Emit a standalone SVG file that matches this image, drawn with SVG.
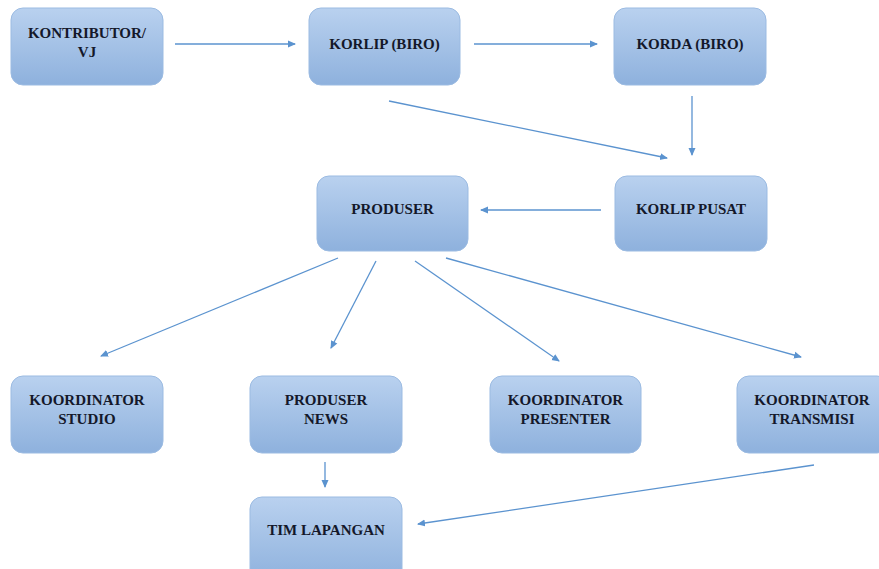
<svg xmlns="http://www.w3.org/2000/svg" width="879" height="569" viewBox="0 0 879 569">
<defs>
<linearGradient id="g" x1="0" y1="0" x2="0" y2="1">
<stop offset="0" stop-color="#b9d1ef"/>
<stop offset="1" stop-color="#8eb1dd"/>
</linearGradient>
<marker id="a" markerWidth="8" markerHeight="8" refX="7" refY="4" orient="auto" markerUnits="userSpaceOnUse">
<path d="M0,0.5 L8,4 L0,7.5 z" fill="#5b93cf"/>
</marker>
<style>
.n rect{fill:url(#g);stroke:#9bbbe2;stroke-width:1}
.n text{font-family:"Liberation Serif","Times New Roman",serif;font-weight:bold;font-size:15px;fill:#14182a;text-anchor:middle}
#edges line{stroke:#5b93cf;stroke-width:1.3;marker-end:url(#a)}
</style>
</defs>
<rect width="879" height="569" fill="#ffffff"/>
<g id="edges">
<line x1="175" y1="44" x2="295" y2="44"/>
<line x1="474" y1="44" x2="597" y2="44"/>
<line x1="692" y1="96" x2="692" y2="155"/>
<line x1="389" y1="101" x2="667" y2="158"/>
<line x1="601" y1="210" x2="481" y2="210"/>
<line x1="338" y1="258" x2="101" y2="356"/>
<line x1="376" y1="261" x2="331" y2="348"/>
<line x1="415" y1="261" x2="559" y2="361"/>
<line x1="446" y1="258" x2="801" y2="357"/>
<line x1="325" y1="462" x2="325" y2="487"/>
<line x1="814" y1="465" x2="418" y2="524"/>
</g>
<g id="kontributor" class="n"><rect x="11" y="8" width="152" height="77" rx="12"/><text x="87" y="38">KONTRIBUTOR/</text><text x="87" y="57">VJ</text></g>
<g id="korlip-biro" class="n"><rect x="309" y="8" width="151" height="77" rx="12"/><text x="384.5" y="49">KORLIP (BIRO)</text></g>
<g id="korda-biro" class="n"><rect x="614" y="8" width="152" height="77" rx="12"/><text x="690" y="49">KORDA (BIRO)</text></g>
<g id="produser" class="n"><rect x="317" y="176" width="151" height="75" rx="12"/><text x="392.5" y="214">PRODUSER</text></g>
<g id="korlip-pusat" class="n"><rect x="615" y="176" width="152" height="75" rx="12"/><text x="691" y="214">KORLIP PUSAT</text></g>
<g id="koordinator-studio" class="n"><rect x="11" y="376" width="152" height="77" rx="12"/><text x="87" y="405">KOORDINATOR</text><text x="87" y="424">STUDIO</text></g>
<g id="produser-news" class="n"><rect x="250" y="376" width="152" height="77" rx="12"/><text x="326" y="405">PRODUSER</text><text x="326" y="424">NEWS</text></g>
<g id="koordinator-presenter" class="n"><rect x="490" y="376" width="151" height="77" rx="12"/><text x="565.5" y="405">KOORDINATOR</text><text x="565.5" y="424">PRESENTER</text></g>
<g id="koordinator-transmisi" class="n"><rect x="737" y="376" width="152" height="77" rx="12"/><text x="812" y="405">KOORDINATOR</text><text x="812" y="424">TRANSMISI</text></g>
<g id="tim-lapangan" class="n"><rect x="250" y="497" width="152" height="85" rx="12"/><text x="326" y="535">TIM LAPANGAN</text></g>
</svg>
